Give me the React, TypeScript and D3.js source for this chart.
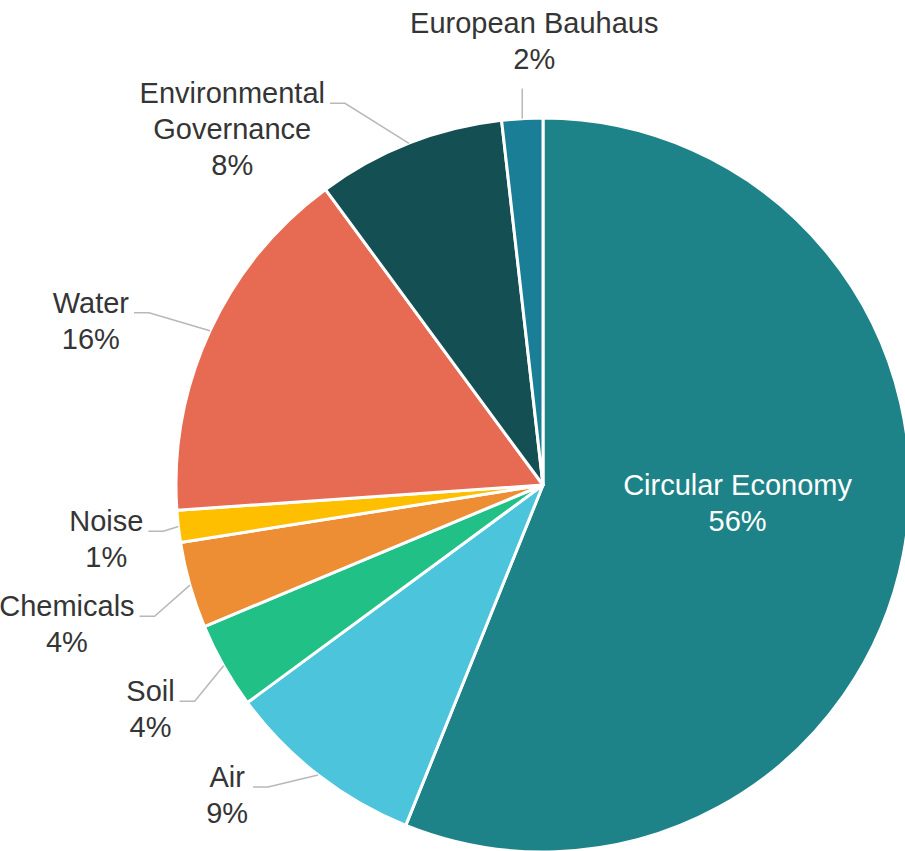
import React, { useEffect, useRef } from "react";
import * as d3 from "d3";

const categories = [
  "Circular Economy",
  "Air",
  "Soil",
  "Chemicals",
  "Noise",
  "Water",
  "Environmental Governance",
  "European Bauhaus",
];
const shares = [56.1, 8.8, 3.8, 3.8, 1.4, 16.0, 8.3, 1.8];
const sliceColors = [
  "#1e8388",
  "#4cc4dc",
  "#20c087",
  "#ed8d34",
  "#fdbf00",
  "#e76b53",
  "#134f53",
  "#1b7e97",
];
const labelNames = [
  ["Circular Economy"],
  ["Air"],
  ["Soil"],
  ["Chemicals"],
  ["Noise"],
  ["Water"],
  ["Environmental", "Governance"],
  ["European Bauhaus"],
];

type Slice = { name: string; value: number; color: string; lines: string[] };

export default function App() {
  const ref = useRef<SVGSVGElement>(null);

  useEffect(() => {
    document.body.style.margin = "0";
    const W = 905, H = 851;
    const cx = 543, cy = 485, r = 367;
    const fs = 29, lh = 36;
    const font = "'Liberation Sans', Arial, sans-serif";
    const textColor = "#353535";
    const leaderColor = "#b8b8b8";

    const svg = d3.select(ref.current);
    svg.selectAll("*").remove();

    const data: Slice[] = categories.map((c, i) => ({
      name: c,
      value: shares[i],
      color: sliceColors[i],
      lines: [...labelNames[i], `${Math.round(shares[i])}%`],
    }));

    const pie = d3
      .pie<Slice>()
      .sort(null)
      .value((d) => d.value)
      .startAngle(0)
      .endAngle(2 * Math.PI);
    const arcs = pie(data);
    const arc = d3.arc<d3.PieArcDatum<Slice>>().innerRadius(0).outerRadius(r);

    const g = svg.append("g").attr("transform", `translate(${cx},${cy})`);
    g.selectAll("path")
      .data(arcs)
      .join("path")
      .attr("d", arc as any)
      .attr("fill", (d) => d.data.color)
      .attr("stroke", "#ffffff")
      .attr("stroke-width", 3)
      .attr("stroke-linejoin", "round");

    const labelLayer = svg.append("g");
    const leaderLayer = svg.append("g");

    const measure = (s: string) => {
      const t = labelLayer
        .append("text")
        .attr("font-family", font)
        .attr("font-size", fs)
        .text(s);
      const w = (t.node() as SVGTextElement).getComputedTextLength();
      t.remove();
      return w;
    };

    const drawBlock = (lines: string[], x: number, y0: number, fill: string) => {
      lines.forEach((ln, i) => {
        labelLayer
          .append("text")
          .attr("x", x)
          .attr("y", y0 + i * lh)
          .attr("text-anchor", "middle")
          .attr("font-family", font)
          .attr("font-size", fs)
          .attr("fill", fill)
          .text(ln);
      });
    };

    const sideLabels: {
      a: d3.PieArcDatum<Slice>;
      mid: number;
      px: number;
      py: number;
      y: number;
      n: number;
    }[] = [];

    arcs.forEach((a) => {
      const mid = (a.startAngle + a.endAngle) / 2;
      const px = cx + r * Math.sin(mid);
      const py = cy - r * Math.cos(mid);
      if (a.data.value > 30) {
        const rr = 0.54 * r;
        const lx = cx + rr * Math.sin(mid);
        const ly = cy - rr * Math.cos(mid);
        const n = a.data.lines.length;
        const y0 = ly - ((n - 1) * lh) / 2 + fs * 0.35 - 20;
        drawBlock(a.data.lines, lx, y0, "#ffffff");
      } else if (mid < 0.15 || mid > 2 * Math.PI - 0.15) {
        const endY = py - 30;
        leaderLayer
          .append("line")
          .attr("x1", px)
          .attr("y1", py)
          .attr("x2", px)
          .attr("y2", endY)
          .attr("stroke", leaderColor)
          .attr("stroke-width", 1.5);
        const n = a.data.lines.length;
        const lastBase = endY - 20;
        drawBlock(a.data.lines, px + 12, lastBase - (n - 1) * lh, textColor);
      } else {
        const R1 = 410;
        sideLabels.push({
          a,
          mid,
          px,
          py,
          y: cy - R1 * Math.cos(mid),
          n: a.data.lines.length,
        });
      }
    });

    // left-side layout relaxation
    const left = sideLabels.filter((s) => s.mid > Math.PI).sort((p, q) => p.y - q.y);
    const gap = 13;
    for (let i = 1; i < left.length; i++) {
      left[i].y = Math.max(left[i].y, left[i - 1].y + left[i - 1].n * lh + gap);
    }
    for (let i = left.length - 1; i >= 0; i--) {
      const limit =
        i === left.length - 1
          ? H - 28 - (left[i].n - 1) * lh
          : left[i + 1].y - (left[i].n * lh + gap);
      left[i].y = Math.min(left[i].y, limit);
    }

    const circX = (R: number, dy: number) =>
      cx - Math.sqrt(Math.max(0, R * R - dy * dy));

    left.forEach((s) => {
      const dy = s.y - cy;
      let ex: number;
      if (Math.abs(s.y - s.py) < 10) {
        ex = s.px - 15;
      } else if (s.y < cy) {
        ex = circX(430, dy);
      } else {
        ex = Math.min(s.px - 15, Math.max(s.px - 50, circX(410, dy)));
      }
      const tailX = ex - 15;
      leaderLayer
        .append("path")
        .attr("d", d3.line()([[s.px, s.py], [ex, s.y], [tailX, s.y]]) as string)
        .attr("fill", "none")
        .attr("stroke", leaderColor)
        .attr("stroke-width", 1.5);
      const maxW = d3.max(s.a.data.lines, measure) as number;
      const centerX = tailX - 5 - maxW / 2;
      drawBlock(s.a.data.lines, centerX, s.y, textColor);
    });

    // right-side (none in this chart, handled for completeness)
    sideLabels
      .filter((s) => s.mid <= Math.PI)
      .forEach((s) => {
        const ex = s.px + 35;
        leaderLayer
          .append("path")
          .attr("d", d3.line()([[s.px, s.py], [ex, s.y], [ex + 15, s.y]]) as string)
          .attr("fill", "none")
          .attr("stroke", leaderColor)
          .attr("stroke-width", 1.5);
        const maxW = d3.max(s.a.data.lines, measure) as number;
        drawBlock(s.a.data.lines, ex + 20 + maxW / 2, s.y, textColor);
      });
  }, []);

  return (
    <svg
      ref={ref}
      width={905}
      height={851}
      style={{ display: "block", background: "#ffffff" }}
    />
  );
}
